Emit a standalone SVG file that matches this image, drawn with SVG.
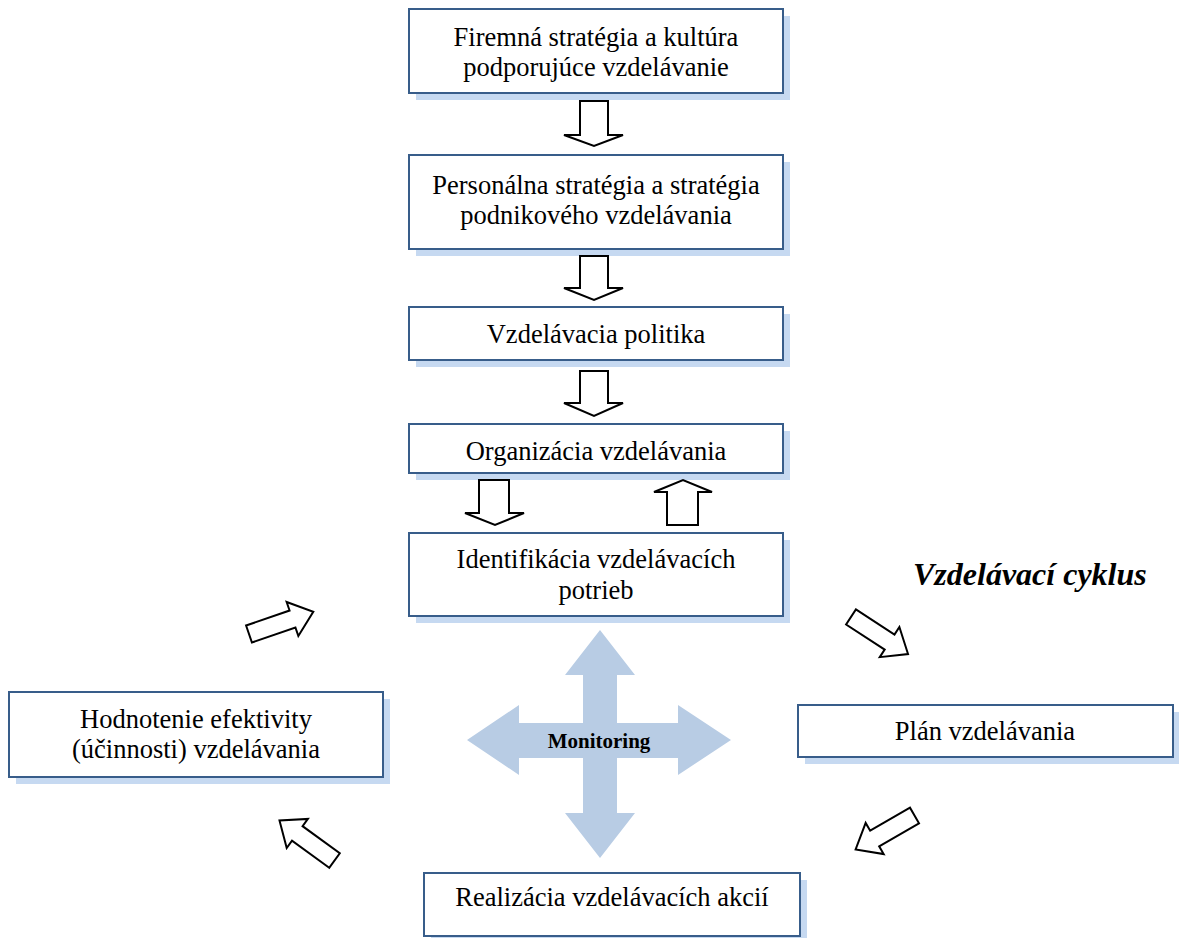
<svg xmlns="http://www.w3.org/2000/svg" width="1179" height="938" viewBox="0 0 1179 938">
<style>
.sh{fill:#c6d9f1;stroke:none}
.bx{fill:#fff;stroke:#385d8a;stroke-width:2}
.t{font-family:"Liberation Serif","Times New Roman",serif;font-size:26.5px;fill:#000;text-anchor:middle}
.ar{fill:#fff;stroke:#000;stroke-width:2;stroke-linejoin:miter}
.mon{fill:#b8cce4;stroke:none}
</style>
<defs>
<path id="darr" d="M0,-9 L46,-9 L46,-18 L68,0 L46,18 L46,9 L0,9 Z"/>
</defs>
<rect width="1179" height="938" fill="#fff"/>

<g id="n1"><rect class="sh" x="416" y="16" width="374" height="84"/><rect class="bx" x="409" y="9" width="374" height="84"/>
<text class="t" x="596" y="46">Firemná stratégia a kultúra</text><text class="t" x="596" y="76">podporujúce vzdelávanie</text></g>

<g id="n2"><rect class="sh" x="416" y="162" width="374" height="94"/><rect class="bx" x="409" y="155" width="374" height="94"/>
<text class="t" x="596" y="194">Personálna stratégia a stratégia</text><text class="t" x="596" y="224">podnikového vzdelávania</text></g>

<g id="n3"><rect class="sh" x="416" y="314" width="374" height="53"/><rect class="bx" x="409" y="307" width="374" height="53"/>
<text class="t" x="596" y="343">Vzdelávacia politika</text></g>

<g id="n4"><rect class="sh" x="416" y="431" width="374" height="49"/><rect class="bx" x="409" y="424" width="374" height="49"/>
<text class="t" x="596" y="460">Organizácia vzdelávania</text></g>

<g id="n5"><rect class="sh" x="416" y="540" width="374" height="83"/><rect class="bx" x="409" y="533" width="374" height="83"/>
<text class="t" x="596" y="568">Identifikácia vzdelávacích</text><text class="t" x="596" y="599">potrieb</text></g>

<g id="n6"><rect class="sh" x="16" y="699" width="374" height="85"/><rect class="bx" x="9" y="692" width="374" height="85"/>
<text class="t" x="196" y="728">Hodnotenie efektivity</text><text class="t" x="196" y="758">(účinnosti) vzdelávania</text></g>

<g id="n7"><rect class="sh" x="805" y="712" width="375" height="52"/><rect class="bx" x="798" y="705" width="375" height="52"/>
<text class="t" x="985" y="740">Plán vzdelávania</text></g>

<g id="n8"><rect class="sh" x="431" y="880" width="376" height="63"/><rect class="bx" x="424" y="873" width="376" height="63"/>
<text class="t" x="612" y="906">Realizácia vzdelávacích akcií</text></g>

<g id="monitoring">
<path class="mon" d="M600,630 L635,675 L617,675 L617,723 L678,723 L678,705 L731,740 L678,775 L678,758 L617,758 L617,813 L635,813 L600,858 L565,813 L583,813 L583,758 L519,758 L519,775 L467,740 L519,705 L519,723 L583,723 L583,675 L565,675 Z"/>
<text x="599" y="748" font-family="Liberation Serif,Times New Roman,serif" font-size="21" font-weight="bold" text-anchor="middle">Monitoring</text>
</g>

<text id="cyklus" x="913" y="585" font-family="Liberation Serif,Times New Roman,serif" font-size="32" font-weight="bold" font-style="italic">Vzdelávací cyklus</text>

<g id="connectors">
<path class="ar" d="M580,101 L608,101 L608,135 L623,135 L594,146 L564,135 L580,135 Z"/>
<path class="ar" d="M580,256 L608,256 L608,288 L623,288 L594,300 L564,288 L580,288 Z"/>
<path class="ar" d="M580,371 L608,371 L608,403 L623,403 L594,416 L564,403 L580,403 Z"/>
<path class="ar" d="M479,480 L509,480 L509,513 L524,513 L495,525 L465,513 L479,513 Z"/>
<path class="ar" d="M667,525 L698,525 L698,492 L712,492 L683,480 L654,492 L667,492 Z"/>
<use href="#darr" class="ar" transform="translate(249,634) rotate(-19)"/>
<use href="#darr" class="ar" transform="translate(851,617) rotate(33)"/>
<use href="#darr" class="ar" transform="translate(914.5,815.5) rotate(150)"/>
<use href="#darr" class="ar" transform="translate(334.5,860.5) rotate(216)"/>
</g>
</svg>
